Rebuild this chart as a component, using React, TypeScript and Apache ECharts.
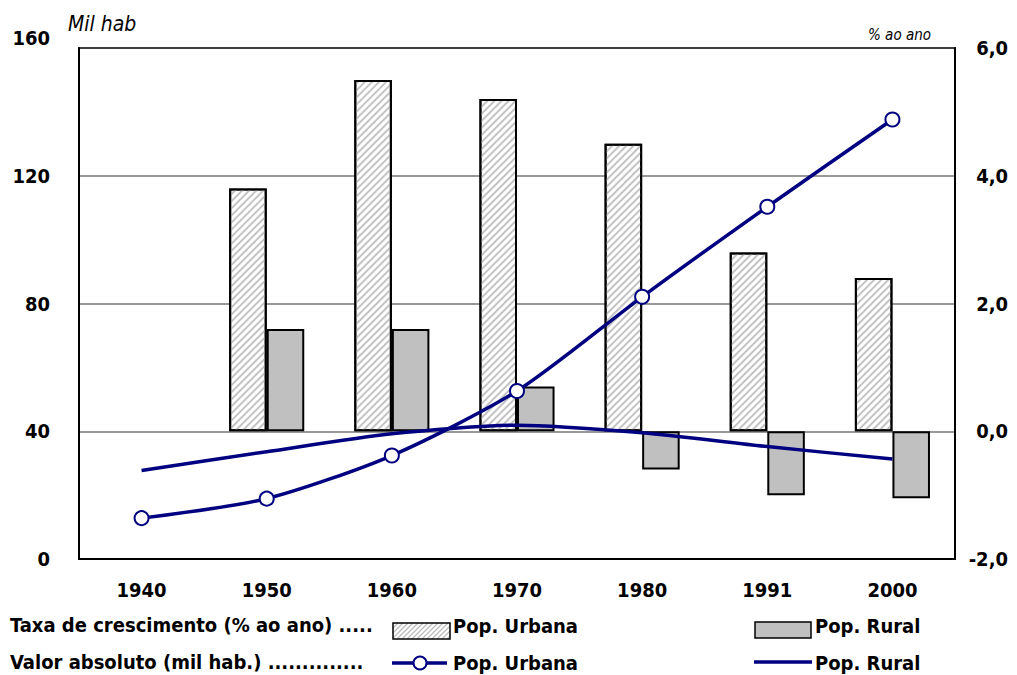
import React, { useEffect, useRef } from "react";
import * as echarts from "echarts";

const categories = ["1940", "1950", "1960", "1970", "1980", "1991", "2000"];
// Growth rate (% per year) – right axis
const rateUrbana = [null, 3.8, 5.5, 5.2, 4.5, 2.8, 2.4];
const rateRural = [null, 1.6, 1.6, 0.7, -0.6, -1.0, -1.05];
// Absolute values (thousand inhabitants) – left axis
const absUrbana = [12.8, 18.9, 32.4, 52.6, 82.1, 110.3, 137.6];
const absRural = [27.7, 33.6, 39.2, 41.9, 39.5, 35.2, 31.3];

const leftTicks = { min: 0, max: 160, interval: 40 };
const rightTicks = { min: -2, max: 6, interval: 2 };

const FONT = "'DejaVu Sans Condensed', 'DejaVu Sans', sans-serif";
const NAVY = "#000080";

function hatchLines(x0: number, y0: number, x1: number, y1: number, step: number) {
  const out: any[] = [];
  for (let c = x0 + y0 + step; c < x1 + y1; c += step) {
    const xa = Math.max(x0, c - y1);
    const xb = Math.min(x1, c - y0);
    if (xb <= xa) continue;
    out.push({
      type: "line",
      shape: { x1: xa, y1: c - xa, x2: xb, y2: c - xb },
      style: { stroke: "#bbbbbb", lineWidth: 1.2 },
      silent: true,
    });
  }
  return out;
}

export default function App() {
  const ref = useRef<HTMLDivElement>(null);
  useEffect(() => {
    document.body.style.margin = "0";
    const chart = echarts.init(ref.current!, null, { renderer: "svg" });
    const textStyle = { fontFamily: FONT, fontWeight: "bold", fontSize: 20, fill: "#000" };
    const graphic: any[] = [
      { type: "text", left: 68, top: 13, style: { text: "Mil hab", fontFamily: FONT, fontStyle: "italic", fontSize: 21, fill: "#000" } },
      { type: "text", left: 868, top: 27, style: { text: "% ao ano", fontFamily: FONT, fontStyle: "italic", fontSize: 15, fill: "#000" } },
      { type: "text", x: 10, y: 625, style: { ...textStyle, text: "Taxa de crescimento (% ao ano) .....", textVerticalAlign: "middle" } },
      { type: "text", x: 10, y: 662, style: { ...textStyle, text: "Valor absoluto (mil hab.) ..............", textVerticalAlign: "middle" } },
      { type: "rect", shape: { x: 393, y: 623, width: 57, height: 16 }, style: { fill: "#fff", stroke: "none" } },
      ...hatchLines(393, 623, 450, 639, 5),
      { type: "rect", shape: { x: 393, y: 623, width: 57, height: 16 }, style: { fill: "none", stroke: "#000", lineWidth: 1.5 } },
      { type: "text", x: 453, y: 626, style: { ...textStyle, text: "Pop. Urbana", textVerticalAlign: "middle" } },
      { type: "rect", shape: { x: 755, y: 622, width: 56, height: 16 }, style: { fill: "#c0c0c0", stroke: "#000", lineWidth: 1.5 } },
      { type: "text", x: 815, y: 626, style: { ...textStyle, text: "Pop. Rural", textVerticalAlign: "middle" } },
      { type: "line", shape: { x1: 392, y1: 663, x2: 447, y2: 663 }, style: { stroke: NAVY, lineWidth: 3.5 } },
      { type: "circle", shape: { cx: 420, cy: 663, r: 6.5 }, style: { fill: "#fff", stroke: NAVY, lineWidth: 2 } },
      { type: "text", x: 453, y: 663, style: { ...textStyle, text: "Pop. Urbana", textVerticalAlign: "middle" } },
      { type: "line", shape: { x1: 754, y1: 662, x2: 812, y2: 662 }, style: { stroke: NAVY, lineWidth: 3.5 } },
      { type: "text", x: 815, y: 663, style: { ...textStyle, text: "Pop. Rural", textVerticalAlign: "middle" } },
    ];
    chart.setOption({
      animation: false,
      grid: { left: 79, right: 62, top: 48, bottom: 116, show: true, borderColor: "#000", borderWidth: 1.5, containLabel: false },
      graphic,
      xAxis: {
        type: "category",
        data: categories,
        boundaryGap: true,
        axisLine: { show: true, lineStyle: { color: "#000", width: 2 } },
        axisTick: { show: false },
        axisLabel: { color: "#000", fontFamily: FONT, fontWeight: "bold", fontSize: 20, margin: 21 },
      },
      yAxis: [
        {
          type: "value",
          ...leftTicks,
          axisLine: { show: true, lineStyle: { color: "#000", width: 2 } },
          axisTick: { show: false },
          splitLine: { show: true, lineStyle: { color: ["rgba(0,0,0,0)", "#999", "#999", "#999", "rgba(0,0,0,0)"], width: 2 } },
          axisLabel: { color: "#000", fontFamily: FONT, fontWeight: "bold", fontSize: 20, margin: 29, verticalAlignMaxLabel: "bottom" },
        },
        {
          type: "value",
          ...rightTicks,
          position: "right",
          axisLine: { show: true, lineStyle: { color: "#000", width: 2 } },
          axisTick: { show: false },
          splitLine: { show: false },
          axisLabel: {
            color: "#000",
            fontFamily: FONT,
            fontWeight: "bold",
            fontSize: 20,
            margin: 53,
            align: "right",
            formatter: (v: number) => v.toFixed(1).replace(".", ","),
          },
        },
      ],
      series: [
        {
          name: "Taxa Pop. Urbana",
          type: "bar",
          yAxisIndex: 1,
          data: rateUrbana,
          barWidth: "30%",
          barGap: "0%",
          itemStyle: {
            color: "#fff",
            borderColor: "#000",
            borderWidth: 2,
            decal: { symbol: "rect", symbolSize: 1, dashArrayX: [1, 0], dashArrayY: [1.5, 2.5], rotation: -Math.PI / 4, color: "#c4c4c4" },
          },
          z: 2,
        },
        {
          name: "Taxa Pop. Rural",
          type: "bar",
          yAxisIndex: 1,
          data: rateRural,
          barWidth: "30%",
          barGap: "0%",
          itemStyle: { color: "#c0c0c0", borderColor: "#000", borderWidth: 2 },
          z: 2,
        },
        {
          name: "Valor Pop. Urbana",
          type: "line",
          yAxisIndex: 0,
          data: absUrbana,
          smooth: 0.25,
          symbol: "circle",
          symbolSize: 14,
          showAllSymbol: true,
          lineStyle: { color: NAVY, width: 3.5 },
          itemStyle: { color: "#fff", borderColor: NAVY, borderWidth: 2 },
          z: 4,
        },
        {
          name: "Valor Pop. Rural",
          type: "line",
          yAxisIndex: 0,
          data: absRural,
          smooth: 0.25,
          symbol: "none",
          lineStyle: { color: NAVY, width: 3.5 },
          z: 3,
        },
      ],
    });
    return () => chart.dispose();
  }, []);
  return <div ref={ref} style={{ width: 1017, height: 675 }} />;
}
